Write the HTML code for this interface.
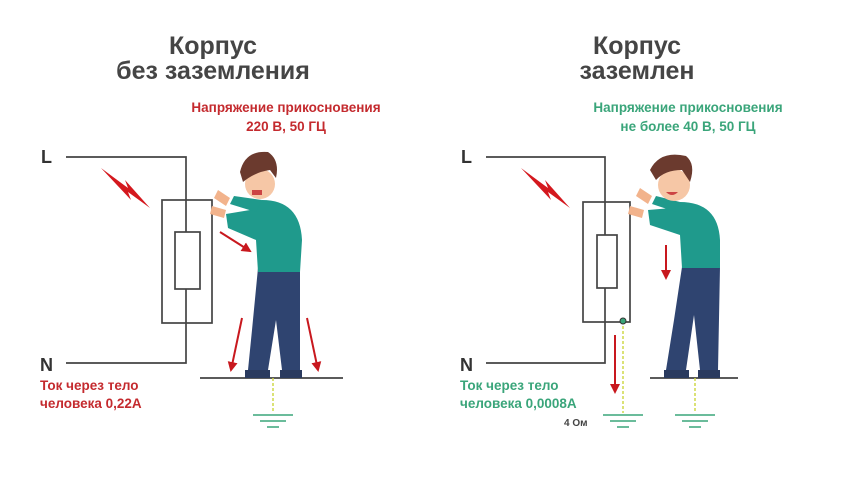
<!DOCTYPE html>
<html><head><meta charset="utf-8"><style>
html,body{margin:0;padding:0;background:#fff;width:850px;height:477px;overflow:hidden}
svg{display:block}
text{font-family:"Liberation Sans",sans-serif;font-weight:bold}
</style></head><body>
<svg width="850" height="477" viewBox="0 0 850 477">
<defs>
<marker id="ar" viewBox="0 0 10 10" refX="8" refY="5" markerWidth="5" markerHeight="5" orient="auto"><path d="M0,0L10,5L0,10z" fill="#c8181e"/></marker>
</defs>
<g fill="#454545" font-size="25" text-anchor="middle">
<text x="213" y="54">Корпус</text>
<text x="213" y="79">без заземления</text>
<text x="637" y="54">Корпус</text>
<text x="637" y="79">заземлен</text>
</g>
<g fill="#c42a2e" font-size="13.5" text-anchor="middle">
<text x="286" y="112">Напряжение прикосновения</text>
<text x="286" y="131">220 В, 50 ГЦ</text>
</g>
<g fill="#3aa57a" font-size="13.5" text-anchor="middle">
<text x="688" y="112">Напряжение прикосновения</text>
<text x="688" y="131">не более 40 В, 50 ГЦ</text>
</g>
<g fill="#333" font-size="18">
<text x="41" y="163">L</text><text x="40" y="371">N</text>
<text x="461" y="163">L</text><text x="460" y="371">N</text>
</g>
<g fill="#c42a2e" font-size="13.5"><text x="40" y="390">Ток через тело</text><text x="40" y="408">человека 0,22А</text></g>
<g fill="#3aa57a" font-size="13.5"><text x="460" y="390">Ток через тело</text><text x="460" y="408">человека 0,0008А</text></g>
<text x="564" y="426" font-size="10" fill="#444">4 Ом</text>

<g fill="none" stroke="#444" stroke-width="1.7">
<path d="M66 157H186V363H66"/>
<rect x="162" y="200" width="50" height="123"/>
<rect x="175" y="232" width="25" height="57" fill="#fff"/>
<path d="M486 157H605V363H486"/>
<rect x="583" y="202" width="47" height="120"/>
<rect x="597" y="235" width="20" height="53" fill="#fff"/>
<path d="M200 378H343M650 378H738"/>
</g>
<path d="M101 168L128 188L125 180L150 208L128 192L131 200Z" fill="#d4181e"/>
<path d="M521 168L548 188L545 180L570 208L548 192L551 200Z" fill="#d4181e"/>
<g stroke="#cfd84a" stroke-width="1.5" stroke-dasharray="3,2">
<path d="M273 378V413M623 321V413M695 378V413"/>
</g>
<g stroke="#3aa57a" stroke-width="1.5">
<path d="M253 415h40M260 421h26M267 427h12"/>
<path d="M603 415h40M610 421h26M617 427h12"/>
<path d="M675 415h40M682 421h26M689 427h12"/>
</g>
<circle cx="623" cy="321" r="3" fill="#3aa57a" stroke="#333"/>
<g stroke="#c8181e" stroke-width="2" marker-end="url(#ar)">
<path d="M220 232L250 251"/><path d="M242 318L231 370"/><path d="M307 318L318 370"/>
<path d="M666 245V278"/><path d="M615 335V392"/>
</g>
<!-- person left -->
<g>
<path d="M258 268L252 330L248 370H268L276 320L282 370H300L300 268Z" fill="#2f4470"/>
<path d="M245 370h25v8h-25zM280 370h22v8h-22z" fill="#2a3a5e"/>
<path d="M262 200Q300 200 302 240L300 272H258L256 240L228 228L226 214L250 210Z" fill="#1f9a8c"/>
<path d="M262 200L234 196L230 204L256 212Z" fill="#1f9a8c"/>
<path d="M218 190l12 8-4 8-12-8zM212 206l14 4-2 8-14-4z" fill="#f2b38c"/>
<circle cx="260" cy="184" r="15" fill="#f6c7a6"/>
<path d="M240 172Q245 150 268 152Q280 160 276 178L270 170Q255 172 243 182Z" fill="#6b3a2e"/>
<path d="M252 190h10v5h-10z" fill="#c44"/>
</g>
<!-- person right -->
<g>
<path d="M682 267L674 320L666 370H686L694 315L700 370H718L720 267Z" fill="#2f4470"/>
<path d="M664 370h25v8h-25zM698 370h22v8h-22z" fill="#2a3a5e"/>
<path d="M680 202Q718 202 720 240L720 268H682L680 235L650 225L648 210L672 208Z" fill="#1f9a8c"/>
<path d="M680 202L656 196L652 204L676 212Z" fill="#1f9a8c"/>
<path d="M640 188l12 8-4 8-12-8zM630 206l14 4-2 8-14-4z" fill="#f2b38c"/>
<circle cx="674" cy="185" r="16" fill="#f6c7a6"/>
<path d="M650 170Q660 150 686 156Q696 164 690 182L682 170Q665 170 656 180Z" fill="#6b3a2e"/>
<path d="M666 192q6 6 12 0z" fill="#c44"/>
</g>
</svg>
</body></html>
